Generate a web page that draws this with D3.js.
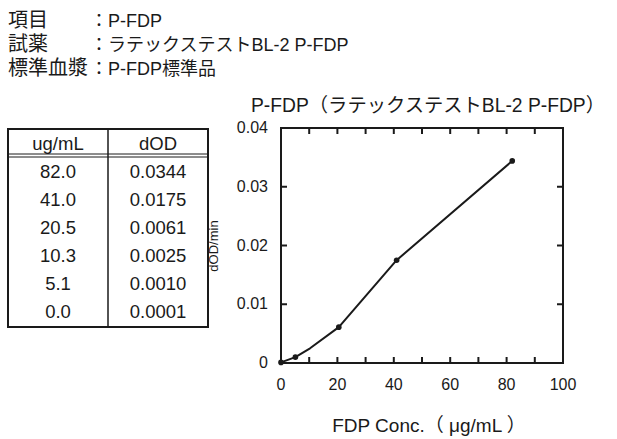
<!DOCTYPE html>
<html>
<head>
<meta charset="utf-8">
<script src="https://cdn.jsdelivr.net/npm/d3@7"></script>
<style>
  body { margin: 0; background: #fff; }
  svg text { font-family: "Liberation Sans", "Noto Sans CJK JP", sans-serif; fill: #1a1a1a; }
</style>
</head>
<body>
<div id="container"></div>
<script>
// header lines
const infoLabels = ['項目', '試薬', '標準血漿']
const infoValues = ['P-FDP', 'ラテックステストBL-2 P-FDP', 'P-FDP標準品']

// calibration table
const tableHeader = ['ug/mL', 'dOD']
const concLabels = ['82.0', '41.0', '20.5', '10.3', '5.1', '0.0']
const dodLabels = ['0.0344', '0.0175', '0.0061', '0.0025', '0.0010', '0.0001']

// curve points
const conc = [0, 5.1, 10.3, 20.5, 41.0, 82.0]
const dod = [0.0001, 0.0010, 0.0025, 0.0061, 0.0175, 0.0344]
const dotted = [true, true, false, true, true, true]

const xTicks = [0, 20, 40, 60, 80, 100]
const xMinor = [0, 10, 20, 30, 40, 50, 60, 70, 80, 90, 100]
const yTicks = [0, 0.01, 0.02, 0.03, 0.04]
const yTickLabels = ['0', '0.01', '0.02', '0.03', '0.04']

const chartTitle = 'P-FDP（ラテックステストBL-2 P-FDP）'
const xTitle = 'FDP Conc.（ μg/mL ）'
const yTitle = 'dOD/min'

const W = 617, H = 439
const svg = d3.select('#container').append('svg')
    .attr('width', W)
    .attr('height', H)

// info text
infoLabels.forEach(function(lab, i) {
    var ty = 27 + i * 24
    svg.append('text').attr('x', 8).attr('y', ty).attr('font-size', 20).text(lab)
    svg.append('text').attr('x', 90).attr('y', ty).attr('font-size', 18).text('：' + infoValues[i])
})

// table
var tx0 = 8, tx1 = 108, tx2 = 208
var ty0 = 129, tyHead = 157, rowH = 28
var ty1 = tyHead + rowH * concLabels.length + 2
var tbl = svg.append('g')
tbl.append('rect').attr('x', tx0).attr('y', ty0).attr('width', tx2 - tx0).attr('height', ty1 - ty0)
    .attr('fill', 'none').attr('stroke', '#1a1a1a').attr('stroke-width', 2)
tbl.append('line').attr('x1', tx1).attr('x2', tx1).attr('y1', ty0).attr('y2', ty1)
    .attr('stroke', '#1a1a1a').attr('stroke-width', 1.5)
tbl.append('line').attr('x1', tx0).attr('x2', tx2).attr('y1', tyHead - 3).attr('y2', tyHead - 3)
    .attr('stroke', '#1a1a1a').attr('stroke-width', 1)
tbl.append('line').attr('x1', tx0).attr('x2', tx2).attr('y1', tyHead).attr('y2', tyHead)
    .attr('stroke', '#1a1a1a').attr('stroke-width', 1)
tbl.append('text').attr('x', (tx0 + tx1) / 2).attr('y', 150).attr('text-anchor', 'middle')
    .attr('font-size', 18.5).text(tableHeader[0])
tbl.append('text').attr('x', (tx1 + tx2) / 2).attr('y', 150).attr('text-anchor', 'middle')
    .attr('font-size', 18.5).text(tableHeader[1])
concLabels.forEach(function(c, i) {
    var ry = tyHead + rowH * i + 21
    tbl.append('text').attr('x', (tx0 + tx1) / 2).attr('y', ry).attr('text-anchor', 'middle')
        .attr('font-size', 18.5).text(c)
    tbl.append('text').attr('x', (tx1 + tx2) / 2).attr('y', ry).attr('text-anchor', 'middle')
        .attr('font-size', 18.5).text(dodLabels[i])
})

// chart
var pLeft = 281, pRight = 563, pTop = 128, pBottom = 363
var x = d3.scaleLinear().domain([0, 100]).range([pLeft, pRight])
var y = d3.scaleLinear().domain([0, 0.04]).range([pBottom, pTop])

svg.append('text').attr('x', 251).attr('y', 112).attr('font-size', 19.3).text(chartTitle)

svg.append('rect').attr('x', pLeft).attr('y', pTop).attr('width', pRight - pLeft).attr('height', pBottom - pTop)
    .attr('fill', 'none').attr('stroke', '#1a1a1a').attr('stroke-width', 2)

var ticks = svg.append('g').attr('stroke', '#1a1a1a').attr('stroke-width', 2)
xMinor.forEach(function(v) {
    ticks.append('line').attr('x1', x(v)).attr('x2', x(v)).attr('y1', pBottom).attr('y2', pBottom - 6)
    ticks.append('line').attr('x1', x(v)).attr('x2', x(v)).attr('y1', pTop).attr('y2', pTop + 6)
})
yTicks.forEach(function(v) {
    ticks.append('line').attr('x1', pLeft).attr('x2', pLeft + 6).attr('y1', y(v)).attr('y2', y(v))
    ticks.append('line').attr('x1', pRight).attr('x2', pRight - 6).attr('y1', y(v)).attr('y2', y(v))
})

xTicks.forEach(function(v) {
    svg.append('text').attr('x', x(v)).attr('y', pBottom + 27).attr('text-anchor', 'middle')
        .attr('font-size', 16).text(v)
})
yTicks.forEach(function(v, i) {
    svg.append('text').attr('x', pLeft - 13).attr('y', y(v) + 5).attr('text-anchor', 'end')
        .attr('font-size', 16).text(yTickLabels[i])
})

svg.append('text').attr('transform', 'translate(218,246) rotate(-90)').attr('text-anchor', 'middle')
    .attr('font-size', 13).text(yTitle)
svg.append('text').attr('x', 429).attr('y', 432).attr('text-anchor', 'middle')
    .attr('font-size', 19).text(xTitle)

var pts = conc.map(function(c, i) { return [c, dod[i]] })
var line = d3.line().x(function(d) { return x(d[0]) }).y(function(d) { return y(d[1]) })
svg.append('path').datum(pts).attr('d', line)
    .attr('fill', 'none').attr('stroke', '#1a1a1a').attr('stroke-width', 2)
    .attr('stroke-linejoin', 'round')
svg.selectAll('circle.pt').data(pts.filter(function(d, i) { return dotted[i] }))
    .enter().append('circle')
    .attr('cx', function(d) { return x(d[0]) })
    .attr('cy', function(d) { return y(d[1]) })
    .attr('r', 2.8)
    .attr('fill', '#1a1a1a')
</script>
</body>
</html>
